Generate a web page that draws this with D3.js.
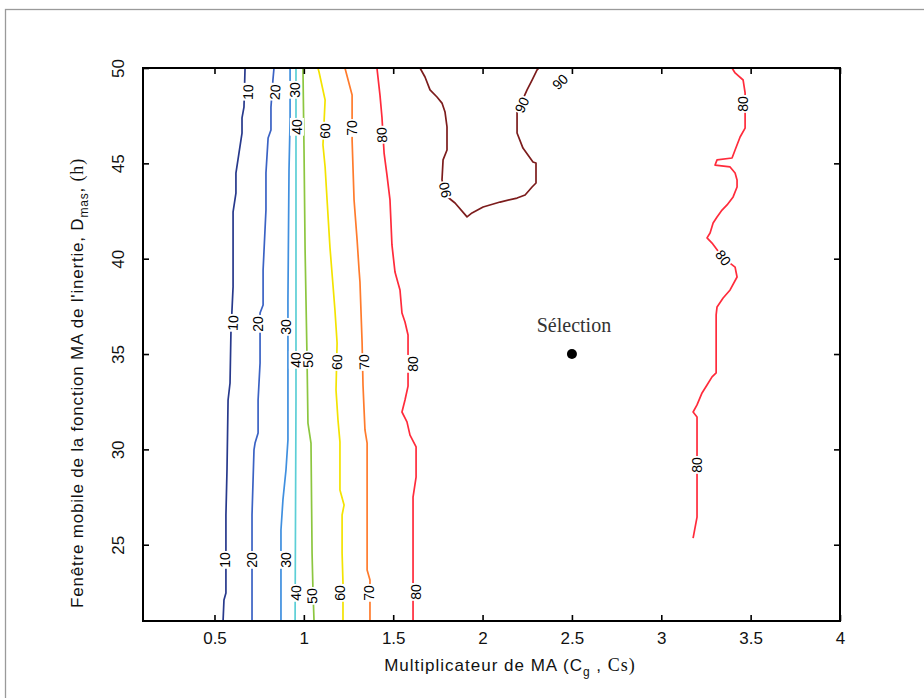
<!DOCTYPE html>
<html><head><meta charset="utf-8">
<script src="https://cdn.jsdelivr.net/npm/d3@7"></script>
<style>body{margin:0;background:#fff;overflow:hidden}</style>
</head><body><svg id="c" width="924" height="698"></svg>
<script>
// ---------- data ----------
const xExtent = [0.1, 4];
const yExtent = [21, 50];
const xTicks = [0.5, 1, 1.5, 2, 2.5, 3, 3.5, 4];
const xTickLabels = ["0.5", "1", "1.5", "2", "2.5", "3", "3.5", "4"];
const yTicks = [25, 30, 35, 40, 45, 50];
const yTickLabels = ["25", "30", "35", "40", "45", "50"];
const levels = [10, 20, 30, 40, 50, 60, 70, 80, 90];
const levelColors = ["#27398c", "#3a62c4", "#3f8fdf", "#5ccfd6", "#8cc63f", "#f3e300", "#ff7b2c", "#ff2b3b", "#7c1c1c"];

const contour10 = [[0.548,21.0],[0.553,22.10],[0.564,22.47],[0.564,26.56],[0.570,28.92],[0.576,32.59],[0.587,33.48],[0.592,36.10],[0.604,38.52],[0.604,42.45],[0.620,43.44],[0.620,44.49],[0.637,45.54],[0.654,46.59],[0.654,47.38],[0.665,47.95],[0.671,50]];
const contour20 = [[0.710,21.0],[0.710,26.56],[0.721,29.97],[0.727,30.33],[0.744,30.86],[0.744,32.59],[0.755,34.53],[0.755,37.15],[0.772,37.57],[0.772,39.41],[0.788,42.55],[0.788,44.49],[0.800,46.33],[0.816,46.75],[0.816,47.95],[0.827,49.37],[0.833,50]];
const contour30 = [[0.872,21.0],[0.872,25.77],[0.883,27.35],[0.900,28.92],[0.911,30.49],[0.911,37.83],[0.917,44.65],[0.923,47.27],[0.923,50]];
const contour40 = [[0.951,21.0],[0.956,32.59],[0.956,43.08],[0.956,50]];
const contour50 = [[1.057,21.0],[1.051,22.63],[1.046,24.57],[1.040,30.33],[1.023,31.38],[1.018,34.69],[1.012,37.83],[1.007,40.46],[1.001,45.70],[0.995,50]];
const contour60 = [[1.219,21.0],[1.219,22.99],[1.214,24.57],[1.214,26.56],[1.225,27.08],[1.202,27.87],[1.202,30.39],[1.191,31.54],[1.180,33.11],[1.186,35.58],[1.174,37.31],[1.163,38.62],[1.146,40.61],[1.130,43.08],[1.119,44.81],[1.107,45.96],[1.119,48.32],[1.085,49.79],[1.079,50]];
const contour70 = [[1.370,21.0],[1.370,23.15],[1.354,23.67],[1.354,30.33],[1.342,31.02],[1.337,32.07],[1.331,33.38],[1.326,35.58],[1.314,38.78],[1.309,39.41],[1.298,40.98],[1.281,43.08],[1.270,46.22],[1.270,48.58],[1.230,50]];
const contour80a = [[1.611,21.0],[1.611,25.62],[1.611,27.50],[1.628,28.55],[1.628,30.13],[1.594,30.75],[1.577,31.44],[1.549,31.96],[1.566,32.59],[1.583,33.32],[1.583,36.00],[1.566,36.68],[1.549,37.15],[1.538,38.36],[1.527,38.73],[1.510,39.30],[1.493,40.72],[1.482,43.08],[1.465,44.39],[1.449,45.54],[1.437,47.43],[1.426,48.58],[1.409,50]];
const contour80b = [[3.396,50],[3.413,49.74],[3.458,49.37],[3.469,48.69],[3.469,46.85],[3.441,46.38],[3.413,45.70],[3.396,45.28],[3.312,45.18],[3.301,44.91],[3.385,44.81],[3.413,44.49],[3.424,44.13],[3.424,43.76],[3.402,43.24],[3.368,42.82],[3.340,42.55],[3.312,42.19],[3.290,41.87],[3.273,41.35],[3.256,41.09],[3.284,40.82],[3.346,40.04],[3.413,39.56],[3.424,39.04],[3.385,38.36],[3.346,37.94],[3.312,37.47],[3.307,37.05],[3.307,34.01],[3.284,33.80],[3.256,33.38],[3.228,32.96],[3.200,32.33],[3.178,31.96],[3.200,31.70],[3.200,26.45],[3.178,25.35]];
const contour90 = [[1.650,50],[1.678,49.53],[1.706,48.85],[1.745,48.48],[1.773,48.16],[1.790,47.69],[1.801,46.91],[1.801,45.70],[1.779,45.18],[1.773,44.13],[1.790,43.34],[1.846,42.92],[1.913,42.19],[1.941,42.40],[2.003,42.71],[2.098,42.97],[2.193,43.18],[2.238,43.34],[2.277,43.76],[2.299,43.97],[2.299,45.02],[2.282,45.07],[2.254,45.44],[2.226,45.80],[2.193,46.59],[2.193,47.69],[2.249,48.85],[2.277,49.37],[2.305,49.90],[2.316,50]];

const contourLevels = [10, 20, 30, 40, 50, 60, 70, 80, 80, 90];
const contourLines = [contour10, contour20, contour30, contour40, contour50, contour60, contour70, contour80a, contour80b, contour90];

// contour labels: level, x, y
const labelLevels = [10,10,10, 20,20,20, 30,30,30, 40,40,40, 50,50, 60,60,60, 70,70,70, 80,80,80, 90,90,90, 80,80,80];
const labelX = [0.559,0.604,0.688, 0.710,0.744,0.839, 0.900,0.900,0.951, 0.956,0.956,0.962, 1.046,1.023, 1.202,1.186,1.119, 1.365,1.337,1.270, 1.628,1.611,1.437, 1.790,2.221,2.434, 3.458,3.346,3.200];
const labelY = [24.20,36.63,48.74, 24.20,36.58,48.74, 24.20,36.42,48.85, 22.47,34.69,46.91, 22.31,34.69, 22.47,34.58,46.70, 22.47,34.58,46.85, 22.52,34.48,46.49, 43.60,48.06,49.27, 48.11,40.04,29.18];

const selectionPoint = [2.5, 35];
const selectionLabel = "Sélection";
const xTitle = "Multiplicateur de MA (C";
const yTitle = "Fenêtre mobile de la fonction MA de l'inertie, D";

// ---------- drawing ----------
const svg = d3.select("#c");
const L = 143, R = 840, T = 68, B = 621;
const x = d3.scaleLinear().domain(xExtent).range([L, R]);
const y = d3.scaleLinear().domain(yExtent).range([B, T]);
const color = d3.scaleOrdinal().domain(levels).range(levelColors);
const sans = "Liberation Sans, Arial, sans-serif";

// outer picture frame
svg.append("rect").attr("x", 5.5).attr("y", 9.5).attr("width", 940).attr("height", 720)
  .attr("fill", "#fff").attr("stroke", "#9a9a9a").attr("stroke-width", 1.3);

const clip = svg.append("clipPath").attr("id", "pc");
clip.append("rect").attr("x", L).attr("y", T).attr("width", R - L).attr("height", B - T);

const line = d3.line().x(d => x(d[0])).y(d => y(d[1]));
const g = svg.append("g").attr("clip-path", "url(#pc)");
contourLines.forEach((pts, i) => {
  g.append("path").attr("d", line(pts)).attr("fill", "none")
    .attr("stroke", color(contourLevels[i])).attr("stroke-width", 1.7)
    .attr("stroke-linejoin", "round");
});

// contour labels, oriented along the nearest segment
function labelAngle(level, px, py) {
  let best = Infinity, ang = -90;
  contourLines.forEach((pts, i) => {
    if (contourLevels[i] !== level) return;
    for (let k = 0; k < pts.length - 1; k++) {
      const ax = x(pts[k][0]), ay = y(pts[k][1]), bx = x(pts[k+1][0]), by = y(pts[k+1][1]);
      const dx = bx - ax, dy = by - ay, len2 = dx*dx + dy*dy || 1;
      let t = ((px-ax)*dx + (py-ay)*dy) / len2; t = Math.max(0, Math.min(1, t));
      const qx = ax + t*dx, qy = ay + t*dy, d = Math.hypot(px-qx, py-qy);
      if (d < best) { best = d; ang = Math.atan2(dy, dx) * 180 / Math.PI; }
    }
  });
  while (ang > 90) ang -= 180;
  while (ang <= -90) ang += 180;
  if (ang > 60) ang -= 180;
  return ang;
}
labelLevels.forEach((lv, i) => {
  const px = x(labelX[i]), py = y(labelY[i]);
  const a = labelAngle(lv, px, py);
  const lg = svg.append("g").attr("transform", `translate(${px},${py}) rotate(${a})`);
  const bg = lg.append("rect").attr("fill", "#fff");
  const t = lg.append("text").text(lv).attr("text-anchor", "middle").attr("dy", "0.35em")
    .attr("font-family", sans).attr("font-size", 14).attr("fill", "#000");
  const bb = t.node().getBBox();
  bg.attr("x", bb.x - 1).attr("y", bb.y + 1).attr("width", bb.width + 2).attr("height", bb.height - 2);
});

// axes box
svg.append("rect").attr("x", L).attr("y", T).attr("width", R - L).attr("height", B - T)
  .attr("fill", "none").attr("stroke", "#000").attr("stroke-width", 2);

const tickLen = 6;
const axB = svg.append("g").attr("transform", `translate(0,${B})`)
  .call(d3.axisBottom(x).tickValues(xTicks).tickFormat((d, i) => xTickLabels[i]).tickSizeInner(-tickLen).tickSizeOuter(0).tickPadding(11));
const axT = svg.append("g").attr("transform", `translate(0,${T})`)
  .call(d3.axisTop(x).tickValues(xTicks).tickFormat("").tickSizeInner(-tickLen).tickSizeOuter(0));
const axL = svg.append("g").attr("transform", `translate(${L},0)`)
  .call(d3.axisLeft(y).tickValues(yTicks).tickFormat((d, i) => yTickLabels[i]).tickSizeInner(-tickLen).tickSizeOuter(0));
const axR = svg.append("g").attr("transform", `translate(${R},0)`)
  .call(d3.axisRight(y).tickValues(yTicks).tickFormat("").tickSizeInner(-tickLen).tickSizeOuter(0));
[axB, axT, axL, axR].forEach(a => {
  a.select(".domain").remove();
  a.selectAll(".tick line").attr("stroke", "#000").attr("stroke-width", 1.6);
  a.selectAll("text").attr("font-family", sans).attr("font-size", 17).attr("fill", "#111");
});
axL.selectAll(".tick text").attr("text-anchor", "middle").attr("x", null)
  .attr("transform", "translate(-25,0) rotate(-90)").attr("dy", "0.35em");

// axis titles
const xt = svg.append("text").attr("x", 510).attr("y", 671).attr("text-anchor", "middle")
  .attr("font-family", sans).attr("font-size", 17).attr("letter-spacing", 1).attr("fill", "#111");
xt.append("tspan").text(xTitle);
xt.append("tspan").text("g").attr("font-size", 12).attr("dy", 5);
xt.append("tspan").text(" , ").attr("dy", -5);
xt.append("tspan").text("Cs)").attr("font-family", "Liberation Serif, serif").attr("font-size", 18);

const yt = svg.append("text").attr("transform", "translate(83,383) rotate(-90)").attr("text-anchor", "middle")
  .attr("font-family", sans).attr("font-size", 17).attr("letter-spacing", 0.8).attr("fill", "#111");
yt.append("tspan").text(yTitle);
yt.append("tspan").text("mas").attr("font-size", 12).attr("dy", 5);
yt.append("tspan").text(", ").attr("dy", -5);
yt.append("tspan").text("(h)").attr("font-family", "Liberation Serif, serif").attr("font-size", 18);

// selection point
svg.append("circle").attr("cx", x(selectionPoint[0])).attr("cy", y(selectionPoint[1])).attr("r", 5).attr("fill", "#000");
svg.append("text").attr("x", x(selectionPoint[0]) + 2).attr("y", y(selectionPoint[1]) - 22)
  .attr("text-anchor", "middle").attr("font-family", "Liberation Serif, Times New Roman, serif")
  .attr("font-size", 20).attr("fill", "#333").text(selectionLabel);
</script></body></html>
